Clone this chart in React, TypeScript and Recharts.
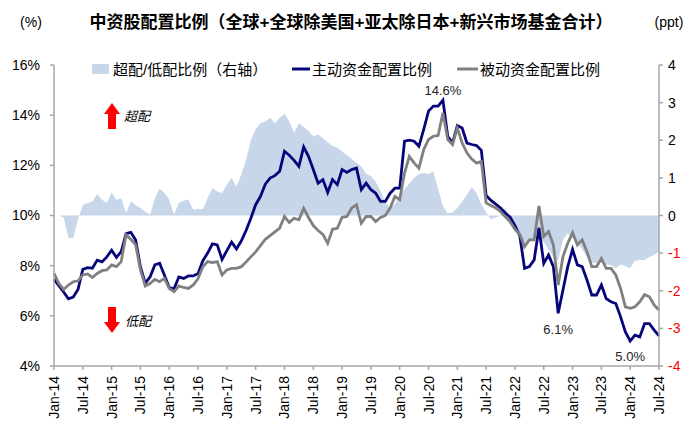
import React from "react"
import { ComposedChart, Area, Line, XAxis, YAxis, ReferenceDot } from "recharts"

// monthly, Jan-14 .. Jul-24
const years = ["14", "15", "16", "17", "18", "19", "20", "21", "22", "23", "24"]
const monthNames = ["Jan", "Feb", "Mar", "Apr", "May", "Jun", "Jul", "Aug", "Sep", "Oct", "Nov", "Dec"]
const months: string[] = []
years.forEach((y) => monthNames.forEach((m) => months.push(`${m}-${y}`)))
months.length = 127

const leftTicks = [4, 6, 8, 10, 12, 14, 16]
const rightTicks = [-4, -3, -2, -1, 0, 1, 2, 3, 4]

// 主动资金配置比例 (%)
const active = [
	7.45, 7.2, 6.95, 6.68, 6.75, 7.05, 7.85, 7.92, 7.9, 8.22, 8.15, 8.35,
	8.62, 8.33, 8.56, 9.28, 9.33, 9.02, 7.95, 7.3, 7.55, 8.03, 8.1, 7.62,
	7.13, 7.08, 7.55, 7.49, 7.59, 7.59, 7.69, 8.2, 8.5, 8.87, 8.83, 8.25,
	8.6, 8.94, 8.67, 8.98, 9.4, 9.89, 10.43, 10.76, 11.25, 11.49, 11.59, 11.76,
	12.56, 12.4, 12.2, 11.96, 12.73, 12.36, 11.83, 11.29, 11.43, 10.92, 11.43, 11.23,
	11.83, 11.72, 11.83, 11.89, 11.03, 11.29, 11.03, 10.89, 10.56, 10.56, 10.89, 11.09,
	11.09, 12.96, 13.0, 12.96, 12.76, 13.43, 14.16, 14.36, 14.36, 14.6, 13.16, 12.89,
	13.59, 13.49, 12.89, 12.83, 12.79, 12.6, 10.8, 10.6, 10.45, 10.3, 10.1, 9.93,
	9.6, 9.2, 7.89, 7.96, 8.23, 9.5, 8.09, 8.43, 7.96, 6.1, 7.03, 7.96,
	8.65, 8.03, 7.96, 7.43, 6.83, 6.83, 7.23, 6.69, 6.56, 6.49, 5.96, 5.36,
	5.0, 5.23, 5.16, 5.69, 5.69, 5.43, 5.2,
]

// 被动资金配置比例 (%)
const passive = [
	7.69, 7.29, 7.05, 7.23, 7.36, 7.39, 7.63, 7.67, 7.53, 7.69, 7.8, 7.83,
	8.03, 7.96, 8.16, 9.23, 9.05, 8.83, 7.83, 7.19, 7.29, 7.45, 7.36, 7.49,
	7.09, 6.96, 7.19, 7.13, 7.09, 7.23, 7.49, 7.96, 8.16, 8.12, 8.16, 7.63,
	7.83, 7.89, 7.89, 7.96, 8.15, 8.35, 8.55, 8.8, 9.05, 9.2, 9.35, 9.5,
	9.96, 9.72, 9.89, 9.83, 10.29, 9.92, 9.6, 9.4, 9.25, 8.89, 9.45, 9.49,
	9.93, 9.96, 10.3, 10.43, 9.69, 9.96, 9.96, 9.76, 9.92, 10.0, 10.3, 10.76,
	10.63, 11.69, 12.36, 12.1, 11.89, 12.63, 13.03, 13.16, 13.19, 14.09, 13.03, 12.83,
	13.49, 12.89, 12.5, 12.25, 12.09, 12.16, 10.5, 10.4, 10.3, 10.15, 9.95, 9.75,
	9.45, 9.25, 8.75, 9.03, 9.03, 10.38, 9.16, 9.36, 8.83, 7.23, 8.36, 8.89,
	9.32, 8.83, 9.03, 8.56, 7.96, 7.96, 8.29, 7.89, 7.89, 7.63, 7.09, 6.36,
	6.3, 6.36, 6.56, 6.85, 6.76, 6.43, 6.23,
]

// 超配/低配比例 (ppt, 右轴)
const overUnder = [
	0, 0, -0.05, -0.6, -0.6, -0.1, 0.28, 0.33, 0.37, 0.57, 0.42, 0.33,
	0.61, 0.42, 0.46, 0.06, 0.37, 0.28, 0.2, 0.1, 0.02, 0.45, 0.72, 0.6,
	0.42, 0.02, 0.33, 0.4, 0.42, 0.15, 0.17, 0.17, 0.46, 0.73, 0.64, 0.6,
	0.82, 1.0, 0.77, 1.08, 1.48, 2.0, 2.3, 2.45, 2.5, 2.6, 2.45, 2.6,
	2.7, 2.5, 2.2, 2.45, 2.35, 2.25, 2.1, 2.15, 2.05, 1.95, 1.85, 1.8,
	1.7, 1.6, 1.5, 1.4, 1.3, 1.1, 1.05, 0.9, 0.65, 0.35, 0.2, 0.3,
	0.55, 0.7, 0.86, 1.0, 1.1, 1.13, 1.1, 1.17, 0.7, 0.25, 0.06, 0.08,
	0.2, 0.37, 0.55, 0.75, 0.6, 0.3, 0.08, -0.1, -0.05, 0.0, 0.2, -0.1,
	-0.35, -0.6, -0.85, -0.65, -0.6, -0.65, -0.7, -0.9, -1.1, -1.2, -0.65, -0.47,
	-0.6, -0.7, -0.9, -1.1, -1.25, -1.27, -1.25, -1.3, -1.32, -1.4, -1.3, -1.35,
	-1.4, -1.2, -1.18, -1.18, -1.1, -1.05, -0.95,
]

const data = months.map((month, i) => ({
	month,
	active: active[i],
	passive: passive[i],
	overUnder: overUnder[i],
}))

const FONT = "'Liberation Sans', Arial, 'Noto Sans CJK SC', sans-serif"
const AXIS = "#a6a6a6"
const NAVY = "#06067a"
const GREY = "#808080"
const FILL = "#c8d6ea"

const XTick = ({ x, y, payload }: any) => (
	<text x={x} y={y} transform={`rotate(-90, ${x}, ${y})`} textAnchor="end" dominantBaseline="central" fontSize={14} fill="#000">
		{payload.value}
	</text>
)

const RightTick = ({ x, y, payload }: any) => (
	<text x={x} y={y} textAnchor="start" dominantBaseline="central" fontSize={14} fill={payload.value < 0 ? "#ff0000" : "#000"}>
		{payload.value}
	</text>
)

const App: React.FC = () => {
	return (
		<div style={{ position: "absolute", left: 0, top: 0, width: 700, height: 434, background: "#fff", fontFamily: FONT }}>
			<ComposedChart width={700} height={434} data={data} margin={{ top: 65, right: 0, bottom: 0, left: 0 }}>
				<XAxis
					dataKey="month"
					interval={5}
					height={68}
					stroke={AXIS}
					strokeWidth={1.5}
					tickSize={4}
					tickMargin={6}
					tick={<XTick />}
				/>
				<YAxis
					yAxisId="left"
					domain={[4, 16]}
					ticks={leftTicks}
					width={54}
					stroke={AXIS}
					strokeWidth={1.5}
					tickSize={4}
					tickMargin={10}
					tick={{ fontSize: 14, fill: "#000" }}
					tickFormatter={(v) => `${v}%`}
				/>
				<YAxis
					yAxisId="right"
					orientation="right"
					domain={[-4, 4]}
					ticks={rightTicks}
					width={41}
					stroke={AXIS}
					strokeWidth={1.5}
					tickSize={4}
					tickMargin={5}
					tick={<RightTick />}
				/>
				<Area
					yAxisId="right"
					dataKey="overUnder"
					type="linear"
					baseValue={0}
					fill={FILL}
					fillOpacity={1}
					stroke="none"
					isAnimationActive={false}
				/>
				<Line yAxisId="left" dataKey="active" type="linear" stroke={NAVY} strokeWidth={2.8} dot={false} isAnimationActive={false} />
				<Line yAxisId="left" dataKey="passive" type="linear" stroke={GREY} strokeWidth={2.8} dot={false} isAnimationActive={false} />
				<ReferenceDot yAxisId="left" x={months[81]} y={active[81]} r={0} label={{ value: "14.6%", position: "top", offset: 5, fontSize: 13, fill: "#222" }} />
				<ReferenceDot yAxisId="left" x={months[105]} y={active[105]} r={0} label={{ value: "6.1%", position: "bottom", offset: 11, fontSize: 13, fill: "#222" }} />
				<ReferenceDot yAxisId="left" x={months[120]} y={active[120]} r={0} label={{ value: "5.0%", position: "bottom", offset: 11, fontSize: 13, fill: "#222" }} />
			</ComposedChart>

			<svg width={700} height={434} style={{ position: "absolute", left: 0, top: 0, pointerEvents: "none" }}>
				<text x={31} y={22} textAnchor="middle" dominantBaseline="central" fontSize={14} fill="#000">(%)</text>
				<text x={669} y={22} textAnchor="middle" dominantBaseline="central" fontSize={14} fill="#000">(ppt)</text>
				<text x={351} y={22} textAnchor="middle" dominantBaseline="central" fontSize={17} fontWeight="bold" fill="#000">
					中资股配置比例（全球+全球除美国+亚太除日本+新兴市场基金合计）
				</text>

				{/* legend */}
				<rect x={92} y={64} width={17} height={10} fill={FILL} />
				<text x={113} y={69} dominantBaseline="central" fontSize={15} fill="#000">超配/低配比例（右轴）</text>
				<line x1={292} y1={69} x2={310} y2={69} stroke={NAVY} strokeWidth={3} />
				<text x={312} y={69} dominantBaseline="central" fontSize={15} fill="#000">主动资金配置比例</text>
				<line x1={457} y1={69} x2={478} y2={69} stroke={GREY} strokeWidth={3} />
				<text x={480} y={69} dominantBaseline="central" fontSize={15} fill="#000">被动资金配置比例</text>

				{/* 超配 / 低配 arrows */}
				<polygon points="112,103 120,114 116,114 116,129 108,129 108,114 104,114" fill="#ff0000" />
				<text x={124} y={116} dominantBaseline="central" fontSize={13} fontStyle="italic" fill="#000">超配</text>
				<polygon points="108,307 116,307 116,322 120,322 112,333 104,322 108,322" fill="#ff0000" />
				<text x={125} y={321} dominantBaseline="central" fontSize={13} fontStyle="italic" fill="#000">低配</text>
			</svg>
		</div>
	)
}

export default App
